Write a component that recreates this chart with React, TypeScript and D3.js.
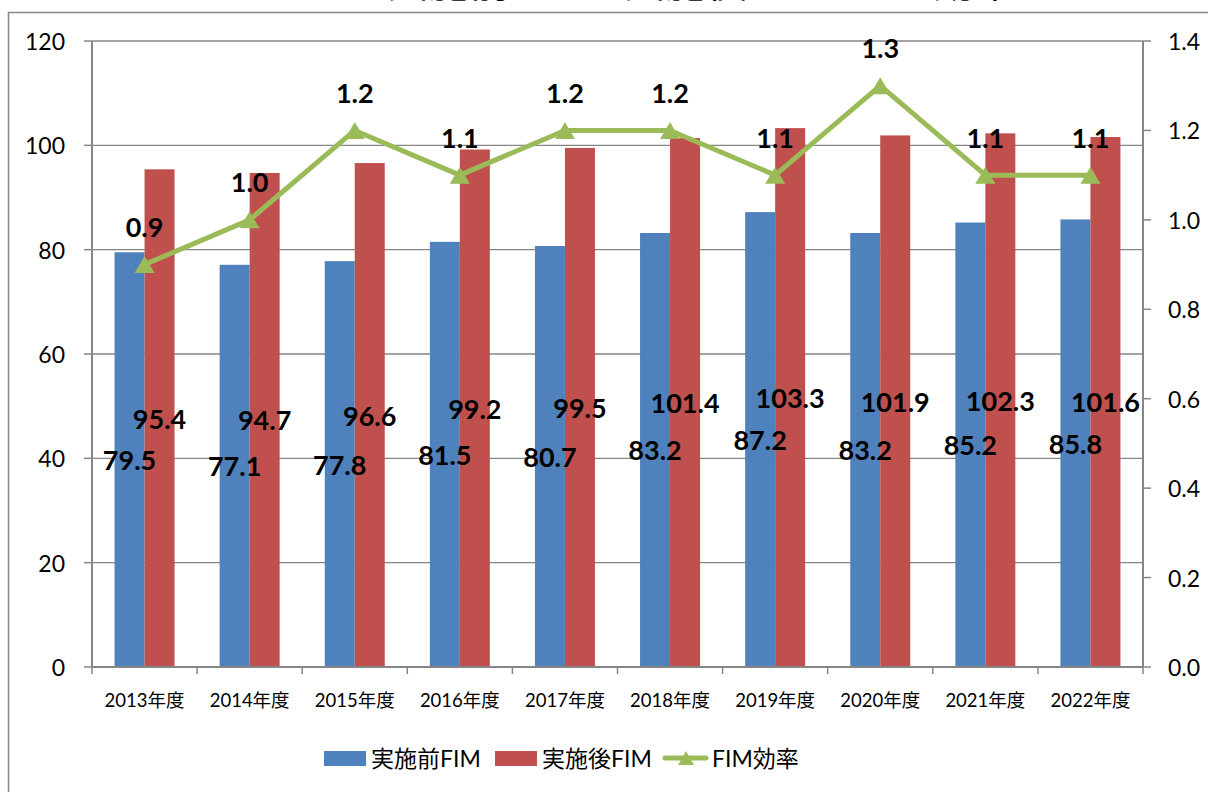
import React from "react";
import * as d3 from "d3";

// chart data
const years = ["2013年度", "2014年度", "2015年度", "2016年度", "2017年度", "2018年度", "2019年度", "2020年度", "2021年度", "2022年度"];
const preFim = [79.5, 77.1, 77.8, 81.5, 80.7, 83.2, 87.2, 83.2, 85.2, 85.8];
const postFim = [95.4, 94.7, 96.6, 99.2, 99.5, 101.4, 103.3, 101.9, 102.3, 101.6];
const fimEff = [0.9, 1.0, 1.2, 1.1, 1.2, 1.2, 1.1, 1.3, 1.1, 1.1];
const leftTicks = [0, 20, 40, 60, 80, 100, 120];
const rightTicks = [0, 0.2, 0.4, 0.6, 0.8, 1.0, 1.2, 1.4];
const seriesNames = ["実施前FIM", "実施後FIM", "FIM効率"];
const title = "リハビリテーション実施前FIM、実施後FIM、FIM効率";

const BLUE = "#4F81BD";
const RED = "#C0504D";
const GREEN = "#9BBB59";
const GRID = "#868686";
const FONT = "Lato, 'Noto Sans CJK JP', sans-serif";

const W = 1208, H = 792;
const left = 92, right = 1143, top = 41, bottom = 667;

function tri(cx: number, cy: number, w = 20, h = 17) {
  return `M${cx},${cy - h / 2}L${cx + w / 2},${cy + h / 2}L${cx - w / 2},${cy + h / 2}Z`;
}

export default function App() {
  const x = d3.scaleBand<string>().domain(years).range([left, right]).paddingInner(0).paddingOuter(0);
  const xs = d3.scaleBand<string>().domain(["pre", "post"]).range([0, x.bandwidth()]).paddingInner(0).paddingOuter(0.752);
  const yL = d3.scaleLinear().domain([0, 120]).range([bottom, top]);
  const yR = d3.scaleLinear().domain([0, 1.4]).range([bottom, top]);
  const bw = xs.bandwidth();
  const cx = (i: number) => (x(years[i]) as number) + x.bandwidth() / 2;

  const line = d3.line<number>()
    .x((_, i) => cx(i))
    .y((d) => yR(d));

  return (
    <svg width={W} height={H} style={{ position: "absolute", left: 0, top: 0, background: "#fff" }} fontFamily={FONT}>
      <rect x={0} y={0} width={W} height={H} fill="#fff" />
      {/* title, cut off at the top as in the source */}
      <text x={19} y={-3} fontSize={41} fill="#000">{title}</text>
      {/* chart frame */}
      <rect x={8.5} y={12.5} width={1400} height={1000} fill="none" stroke={GRID} strokeWidth={1.5} />

      {/* gridlines */}
      {leftTicks.map((t) => (
        <line key={"g" + t} x1={left} x2={right} y1={yL(t)} y2={yL(t)} stroke={GRID} strokeWidth={1.3} />
      ))}

      {/* bars */}
      {years.map((yr, i) => (
        <g key={yr}>
          <rect x={(x(yr) as number) + (xs("pre") as number)} y={yL(preFim[i])} width={bw} height={bottom - yL(preFim[i])} fill={BLUE} />
          <rect x={(x(yr) as number) + (xs("post") as number)} y={yL(postFim[i])} width={bw} height={bottom - yL(postFim[i])} fill={RED} />
        </g>
      ))}

      {/* axes */}
      <line x1={left} x2={left} y1={top} y2={bottom} stroke={GRID} strokeWidth={2} />
      <line x1={right} x2={right} y1={top} y2={bottom} stroke={GRID} strokeWidth={2} />
      <line x1={left} x2={right} y1={bottom} y2={bottom} stroke={GRID} strokeWidth={2} />
      {leftTicks.map((t) => (
        <g key={"l" + t}>
          <line x1={left - 8} x2={left} y1={yL(t)} y2={yL(t)} stroke={GRID} strokeWidth={1.5} />
          <text x={65} y={yL(t)} textAnchor="end" dominantBaseline="central" fontSize={23} fill="#000">{t}</text>
        </g>
      ))}
      {rightTicks.map((t) => (
        <g key={"r" + t}>
          <line x1={right} x2={right + 8} y1={yR(t)} y2={yR(t)} stroke={GRID} strokeWidth={1.5} />
          <text x={1168} y={yR(t)} dominantBaseline="central" fontSize={23} fill="#000">{t.toFixed(1)}</text>
        </g>
      ))}
      {years.map((yr) => (
        <line key={"xt" + yr} x1={x(yr) as number} x2={x(yr) as number} y1={bottom} y2={bottom + 7} stroke={GRID} strokeWidth={1.5} />
      ))}
      <line x1={right} x2={right} y1={bottom} y2={bottom + 7} stroke={GRID} strokeWidth={1.5} />
      {years.map((yr, i) => (
        <text key={"xl" + yr} x={cx(i)} y={700} textAnchor="middle" dominantBaseline="central" fontSize={18.5} fill="#000">{yr}</text>
      ))}

      {/* bar labels */}
      {years.map((yr, i) => (
        <g key={"bl" + yr} fontWeight="bold" fontSize={27} fill="#000" textAnchor="middle" dominantBaseline="central">
          <text x={(x(yr) as number) + (xs("pre") as number) + bw / 2} y={yL(preFim[i] / 2)}>{preFim[i].toFixed(1)}</text>
          <text x={(x(yr) as number) + (xs("post") as number) + bw / 2} y={yL(postFim[i] / 2)}>{postFim[i].toFixed(1)}</text>
        </g>
      ))}

      {/* efficiency line */}
      <path d={line(fimEff) as string} fill="none" stroke={GREEN} strokeWidth={5} strokeLinejoin="round" />
      {fimEff.map((v, i) => (
        <path key={"m" + i} d={tri(cx(i), yR(v))} fill={GREEN} />
      ))}
      {fimEff.map((v, i) => (
        <text key={"el" + i} x={cx(i)} y={yR(v) - 38} textAnchor="middle" dominantBaseline="central" fontWeight="bold" fontSize={27} fill="#000">{v.toFixed(1)}</text>
      ))}

      {/* legend */}
      <rect x={324} y={751} width={42} height={15} fill={BLUE} />
      <text x={371} y={758} dominantBaseline="central" fontSize={23} fill="#000">{seriesNames[0]}</text>
      <rect x={495} y={751} width={42} height={15} fill={RED} />
      <text x={542} y={758} dominantBaseline="central" fontSize={23} fill="#000">{seriesNames[1]}</text>
      <line x1={665} x2={706} y1={758} y2={758} stroke={GREEN} strokeWidth={5} strokeLinecap="round" />
      <path d={tri(686, 758, 16, 14)} fill={GREEN} />
      <text x={712} y={758} dominantBaseline="central" fontSize={23} fill="#000">{seriesNames[2]}</text>
    </svg>
  );
}
